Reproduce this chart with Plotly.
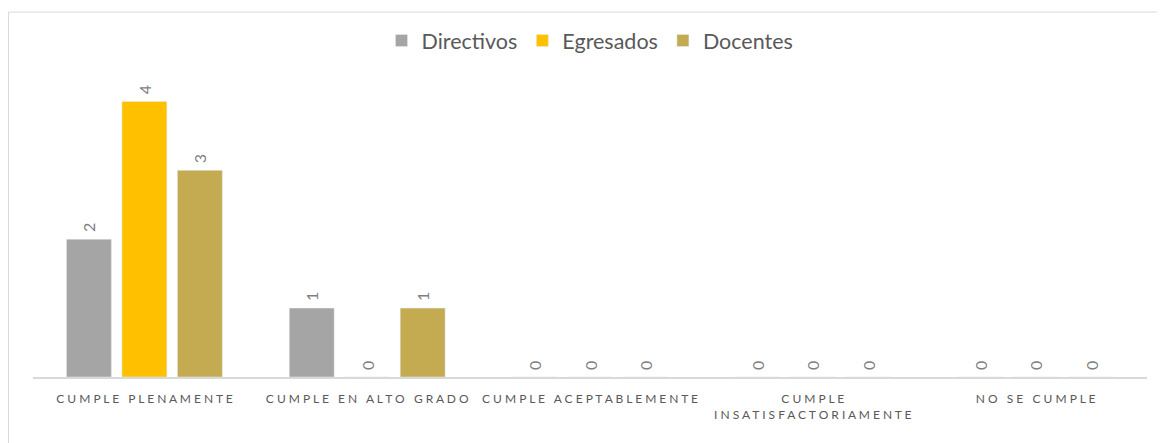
import plotly.graph_objects as go

categories = ["CUMPLE PLENAMENTE", "CUMPLE EN ALTO GRADO", "CUMPLE ACEPTABLEMENTE",
              "CUMPLE<br>INSATISFACTORIAMENTE", "NO SE CUMPLE"]
directivos = [2, 1, 0, 0, 0]
egresados = [4, 0, 0, 0, 0]
docentes = [3, 1, 0, 0, 0]

series = [("Directivos", directivos, "#A5A5A5"),
          ("Egresados", egresados, "#FFC000"),
          ("Docentes", docentes, "#C4AB52")]


def spaced(label):
    lines = []
    for line in label.split("<br>"):
        words = [("\u00A0").join(list(w)) for w in line.split(" ")]
        lines.append("\u00A0\u00A0\u00A0".join(words))
    return "<br>".join(lines)


tick_text = [spaced(c) for c in categories]

# figure is placed by the page at an 8px body offset
W, H = 1157, 435
L, R, T, B = 25, 18, 58.5, 66
pw, ph = W - L - R, H - T - B


def px(x):
    return (x - L) / pw


def py(y):
    return (H - B - y) / ph


fig = go.Figure()
for name, vals, color in series:
    fig.add_trace(go.Bar(
        x=categories, y=vals, name=name, marker_color=color,
        texttemplate="\u00A0%{y}", textposition="outside", textangle=-90,
        constraintext="none", cliponaxis=False,
        textfont=dict(family="Lato", size=16, color="#7F7F7F"),
    ))

fig.update_layout(
    width=W, height=H,
    margin=dict(l=L, r=R, t=T, b=B),
    paper_bgcolor="white", plot_bgcolor="white",
    barmode="group", bargap=0.253, bargroupgap=0.19,
    font=dict(family="Lato", color="#595959"),
    legend=dict(orientation="h", x=0.5, xanchor="center", y=py(32), yanchor="middle",
                font=dict(family="Lato", size=21.5, color="#595959"),
                itemwidth=30, tracegroupgap=0),
    xaxis=dict(tickmode="array", tickvals=categories, ticktext=tick_text,
               showline=True, linecolor="#D9D9D9", linewidth=1.5,
               ticks="", ticklabelstandoff=10,
               tickfont=dict(family="Lato", size=12, color="#595959"),
               showgrid=False, zeroline=False),
    yaxis=dict(range=[0, 4.5], visible=False, showgrid=False, zeroline=False),
    shapes=[dict(type="rect", xref="paper", yref="paper",
                 x0=px(0.5), x1=px(W + 10),
                 y0=py(H + 10), y1=py(3.5),
                 line=dict(color="#D9D9D9", width=1), layer="below")],
)

fig.write_html("out.html")
